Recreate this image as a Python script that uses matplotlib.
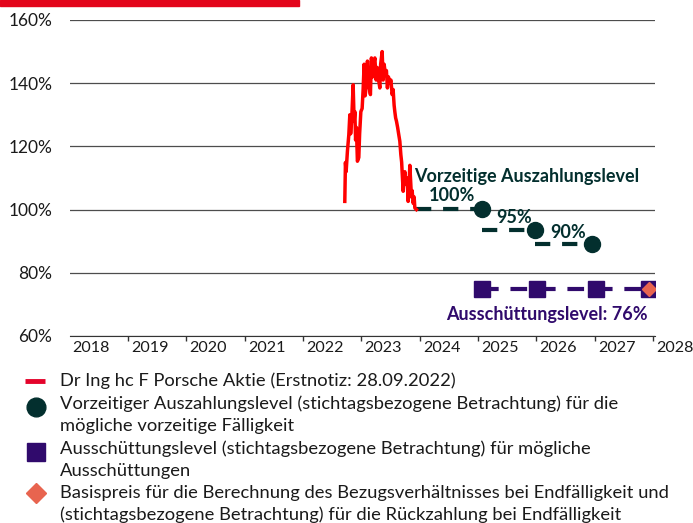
import matplotlib
matplotlib.use("Agg")
import matplotlib.pyplot as plt
from matplotlib.patches import Rectangle

plt.rcParams["font.family"] = ["Lato", "DejaVu Sans"]
plt.rcParams["lines.scale_dashes"] = False

# Porsche share price in % of the reference level (decimal years)
share_dates = [
    2022.716, 2022.727, 2022.739, 2022.761, 2022.785, 2022.802, 2022.816, 2022.833,
    2022.859, 2022.876, 2022.888, 2022.901, 2022.915, 2022.932, 2022.956, 2022.970,
    2022.991, 2023.013, 2023.030, 2023.047, 2023.064, 2023.087, 2023.104, 2023.124,
    2023.155, 2023.172, 2023.193, 2023.210, 2023.231, 2023.253, 2023.270, 2023.299,
    2023.316, 2023.330, 2023.356, 2023.373, 2023.390, 2023.412, 2023.429, 2023.446,
    2023.464, 2023.484, 2023.506, 2023.527, 2023.544, 2023.561, 2023.573, 2023.587,
    2023.601, 2023.621, 2023.638, 2023.659, 2023.676, 2023.690, 2023.698, 2023.716,
    2023.729, 2023.745, 2023.758, 2023.772, 2023.784, 2023.801, 2023.818, 2023.830,
    2023.844, 2023.858, 2023.870, 2023.887, 2023.904, 2023.916, 2023.943,
]
share_values = [
    102.6, 114.9, 112.0, 118.5, 123.7, 130.0, 124.0, 128.0,
    139.5, 128.0, 131.0, 122.0, 126.0, 115.3, 116.5, 124.0,
    131.0, 132.0, 138.0, 146.0, 136.0, 139.5, 147.0, 140.0,
    136.4, 148.0, 142.0, 146.0, 148.0, 141.0, 145.0, 140.6,
    138.5, 146.0, 150.0, 141.0, 146.0, 142.7, 144.0, 138.5,
    142.0, 140.0, 141.0, 136.4, 138.0, 133.0, 131.0, 129.0,
    128.0, 126.0, 124.0, 121.6, 117.4, 115.0, 112.0, 105.8,
    110.0, 112.0, 109.0, 107.9, 110.0, 102.6, 108.0, 114.0,
    109.0, 104.0, 106.0, 102.0, 104.0, 100.5, 100.0,
]

# early redemption levels
autocall_dates = [2025.06, 2025.98, 2026.95]
autocall_levels = [100.2, 93.6, 89.0]
autocall_labels = ["100%", "95%", "90%"]

# coupon levels and final strike
coupon_dates = [2025.06, 2026.01, 2027.02, 2027.93]
coupon_levels = [74.8, 74.8, 74.8, 74.8]
strike_date = 2027.93
strike_level = 74.8

years = list(range(2018, 2029))
y_ticks = [60, 80, 100, 120, 140, 160]

legend_lines = [
    "Dr Ing hc F Porsche Aktie (Erstnotiz: 28.09.2022)",
    "Vorzeitiger Auszahlungslevel (stichtagsbezogene Betrachtung) für die",
    "mögliche vorzeitige Fälligkeit",
    "Ausschüttungslevel (stichtagsbezogene Betrachtung) für mögliche",
    "Ausschüttungen",
    "Basispreis für die Berechnung des Bezugsverhältnisses bei Endfälligkeit und",
    "(stichtagsbezogene Betrachtung) für die Rückzahlung bei Endfälligkeit",
]

RED = "#ff0000"
TEAL = "#032f2e"
PURPLE = "#300a6c"
SALMON = "#e8644f"
TEXT = "#1a1a1a"

fig = plt.figure(figsize=(6.93, 5.23), dpi=100)
ax = fig.add_axes([69.5 / 693, 187 / 523, 585.5 / 693, 316 / 523])

ax.set_xlim(2018, 2028.03)
ax.set_ylim(60, 160)
ax.set_yticks(y_ticks)
ax.set_yticklabels([f"{v}%" for v in y_ticks], fontsize=12.5, color=TEXT)
ax.tick_params(axis="y", length=0, pad=12.5)
ax.set_xticks(years[1:])
ax.set_xticklabels([])
ax.tick_params(axis="x", length=3.5, width=1, color="#333333")
ax.grid(axis="y", color="#4d4d4d", lw=0.9)
ax.set_axisbelow(True)
for side in ["top", "right", "left"]:
    ax.spines[side].set_visible(False)
ax.spines["bottom"].set_color("#333333")
for yr in years:
    ax.text(yr + 0.375, -0.038, str(yr), transform=ax.get_xaxis_transform(),
            ha="center", va="center", fontsize=11.6, color=TEXT, clip_on=False)

# share line
ax.plot(share_dates, share_values, color=RED, lw=2.5, zorder=4)

# early redemption steps
starts = [share_dates[-1]] + autocall_dates[:-1]
for s, e, lvl in zip(starts, autocall_dates, autocall_levels):
    ax.plot([s, e], [lvl, lvl], color=TEAL, lw=3, dashes=(11, 8.5), zorder=3)
ax.plot(autocall_dates, autocall_levels, ls="none", marker="o", ms=11.5,
        color=TEAL, zorder=5)
label_offsets = [(-0.5, 4.3), (-0.37, 3.9), (-0.4, 3.9)]
for d, lvl, lab, (dx, dy) in zip(autocall_dates, autocall_levels, autocall_labels, label_offsets):
    ax.text(d + dx, lvl + dy, lab, ha="center", va="center", fontsize=13,
            fontweight="bold", color=TEAL, zorder=6)
ax.text(2025.83, 110.4, "Vorzeitige Auszahlungslevel", ha="center", va="center",
        fontsize=13, fontweight="bold", color=TEAL, zorder=6)

# coupon levels
ax.plot(coupon_dates, coupon_levels, color=PURPLE, lw=3, dashes=(12, 8.5), zorder=3)
ax.plot(coupon_dates, coupon_levels, ls="none", marker="s", ms=12.2,
        color=PURPLE, zorder=5)
ax.plot([strike_date], [strike_level], ls="none", marker="D", ms=7.5,
        color=SALMON, zorder=6)
ax.text(2027.91, 66.7, "Ausschüttungslevel: 76%", ha="right", va="center",
        fontsize=13, fontweight="bold", color=PURPLE, zorder=6)

# overlay in pixel space for the red bar and the legend
lax = fig.add_axes([0, 0, 1, 1], zorder=-1)
lax.set_xlim(0, 693)
lax.set_ylim(523, 0)
lax.axis("off")
lax.add_patch(Rectangle((0, 0), 299, 6, color="#e3051b"))

lax.plot([25, 45], [381, 381], color="#e4032b", lw=3.5, solid_capstyle="butt")
lax.plot([35.7], [406.7], marker="o", ms=13.5, color=TEAL, ls="none")
lax.plot([35.5], [452], marker="s", ms=13.5, color=PURPLE, ls="none")
lax.plot([35.7], [493], marker="D", ms=10, color=SALMON, ls="none")

line_y = [381, 404, 426, 449, 471, 493, 515]
for y, txt in zip(line_y, legend_lines):
    lax.text(60, y, txt, ha="left", va="center", fontsize=13.2, color=TEXT)

fig.savefig("out.png", dpi=100)
